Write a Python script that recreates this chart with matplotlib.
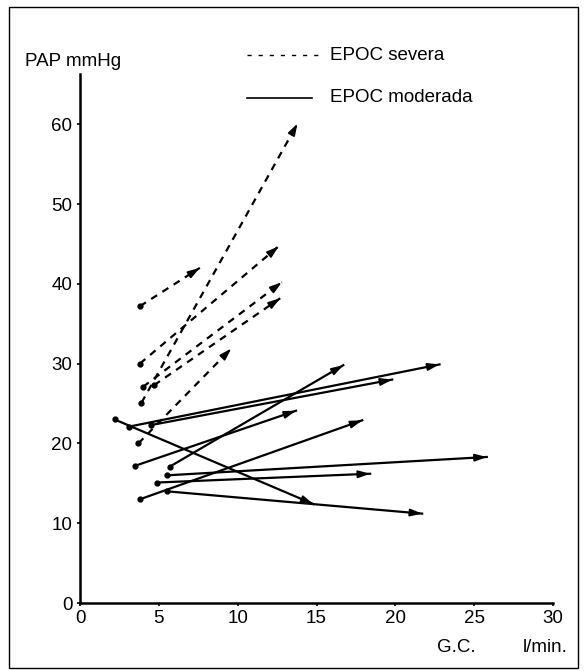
import matplotlib
matplotlib.use("Agg")
import matplotlib.pyplot as plt
from matplotlib.patches import Rectangle
from matplotlib.lines import Line2D

plt.rcParams['font.family'] = ['Liberation Sans', 'DejaVu Sans']

# EPOC severa (dashed): start -> end
sev_x0 = [3.8, 3.8, 4.0, 4.7, 3.9, 3.7]
sev_y0 = [37.2, 30.0, 27.1, 27.3, 25.1, 20.0]
sev_x1 = [7.6, 12.6, 12.8, 12.7, 13.8, 9.6]
sev_y1 = [42.0, 44.7, 40.2, 38.2, 60.1, 31.9]

# EPOC moderada (solid): start -> end
mod_x0 = [2.2, 3.1, 4.5, 3.5, 5.7, 5.5, 4.9, 3.8, 5.5]
mod_y0 = [23.0, 22.1, 22.3, 17.2, 17.1, 16.0, 15.1, 13.0, 14.0]
mod_x1 = [14.8, 22.8, 19.8, 13.7, 16.7, 25.8, 18.4, 17.9, 21.7]
mod_y1 = [12.4, 29.9, 28.0, 24.1, 29.8, 18.3, 16.2, 22.9, 11.2]

x_ticks = [0, 5, 10, 15, 20, 25, 30]
y_ticks = [0, 10, 20, 30, 40, 50, 60]

FS = 13.5
W, H = 584, 671
fig = plt.figure(figsize=(W / 100, H / 100), dpi=100)
ax = fig.add_axes([80 / W, (H - 603) / H, 473 / W, 529 / H])
ax.set_xlim(0, 30)
ax.set_ylim(0, 66.3)

for s in ['top', 'right']:
    ax.spines[s].set_visible(False)
for s in ['left', 'bottom']:
    ax.spines[s].set_linewidth(1.8)
ax.set_xticks(x_ticks)
ax.set_yticks(y_ticks)
ax.tick_params(length=2.5, width=1.2, labelsize=FS, pad=2.5)
ax.tick_params(axis='y', pad=3)


def arrow_head(x0, y0, x1, y1):
    # short solid segment at the end to carry the head (pixel-based direction)
    dx = (x1 - x0) * 15.7
    dy = (y1 - y0) * 7.98
    n = (dx ** 2 + dy ** 2) ** 0.5
    bx = x1 - dx / n * 7 / 15.7
    by = y1 - dy / n * 7 / 7.98
    ax.annotate('', xy=(x1, y1), xytext=(bx, by),
                arrowprops=dict(arrowstyle='-|>,head_length=0.7,head_width=0.22',
                                mutation_scale=10, color='black', lw=1.3,
                                shrinkA=0, shrinkB=0))


for x0, y0, x1, y1 in zip(sev_x0, sev_y0, sev_x1, sev_y1):
    ax.plot([x0, x1], [y0, y1], color='black', lw=1.6, linestyle=(0, (3.2, 2.8)))
    ax.plot([x0], [y0], 'o', color='black', ms=3.5)
    arrow_head(x0, y0, x1, y1)

for x0, y0, x1, y1 in zip(mod_x0, mod_y0, mod_x1, mod_y1):
    ax.plot([x0, x1], [y0, y1], color='black', lw=1.6)
    ax.plot([x0], [y0], 'o', color='black', ms=3.5)
    arrow_head(x0, y0, x1, y1)


# texts and legend in pixel positions of the figure
def fx(px):
    return px / W


def fy(py):
    return 1 - py / H


fig.text(fx(25), fy(62), 'PAP mmHg', fontsize=FS, va='center', ha='left')
fig.text(fx(437), fy(647), 'G.C.', fontsize=FS, va='center', ha='left')
fig.text(fx(523), fy(647), 'l/min.', fontsize=FS, va='center', ha='left')

fig.add_artist(Line2D([fx(247), fx(322)], [fy(55), fy(55)], color='black', lw=1.0,
                      linestyle=(0, (3, 5))))
fig.text(fx(330), fy(55), 'EPOC severa', fontsize=FS, va='center', ha='left')
fig.add_artist(Line2D([fx(247), fx(312)], [fy(98), fy(98)], color='black', lw=1.2))
fig.text(fx(330), fy(97), 'EPOC moderada', fontsize=FS, va='center', ha='left')

fig.add_artist(Rectangle((fx(9), fy(668)), fx(569), 661 / H, fill=False,
                         edgecolor='black', lw=1.0))

fig.savefig('out.png', dpi=100)
